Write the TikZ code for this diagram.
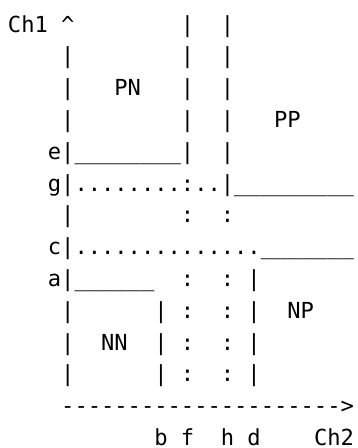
\documentclass[tikz,border=0pt]{standalone}
\usepackage{fontspec}
\setmonofont{DejaVu Sans Mono}
\usepackage{tikz}

\tikzset{
  asciirow/.style={anchor=base west, inner sep=0pt, outer sep=0pt,
    font=\ttfamily\fontsize{22.1}{32}\selectfont}
}

\begin{document}
\begin{tikzpicture}[x=1pt,y=1pt]
    % 画布大小
    \useasboundingbox (0,0) rectangle (357,-448);

    % 纵轴 Ch1 与区域 PN, PP
    \node[asciirow] (row1)  at (8,-32)    {Ch1~\textasciicircum~~~~~~~~|~~|};
    \node[asciirow] (row2)  at (8,-63.8)  {~~~~|~~~~~~~~|~~|};
    \node[asciirow] (row3)  at (8,-95.6)  {~~~~|~~~PN~~~|~~|};
    \node[asciirow] (row4)  at (8,-127.4) {~~~~|~~~~~~~~|~~|~~~PP};
    \node[asciirow] (row5)  at (8,-159.2) {~~~e|\_\_\_\_\_\_\_\_|~~|};
    \node[asciirow] (row6)  at (8,-191)   {~~~g|........:..|\_\_\_\_\_\_\_\_\_};
    \node[asciirow] (row7)  at (8,-222.8) {~~~~|~~~~~~~~:~~:};

    % 区域 NN, NP
    \node[asciirow] (row8)  at (8,-254.6) {~~~c|..............\_\_\_\_\_\_\_};
    \node[asciirow] (row9)  at (8,-286.4) {~~~a|\_\_\_\_\_\_~~:~~:~|};
    \node[asciirow] (row10) at (8,-318.2) {~~~~|~~~~~~|~:~~:~|~~NP};
    \node[asciirow] (row11) at (8,-350)   {~~~~|~~NN~~|~:~~:~|};
    \node[asciirow] (row12) at (8,-381.8) {~~~~|~~~~~~|~:~~:~|};

    % 横轴 Ch2
    \node[asciirow] (row13) at (8,-413.6) {~~~~--------------------->};
    \node[asciirow, text depth=0pt] (row14) at (8,-445.4) {~~~~~~~~~~~b~f~~h~d~~~~Ch2};
\end{tikzpicture}
\end{document}
